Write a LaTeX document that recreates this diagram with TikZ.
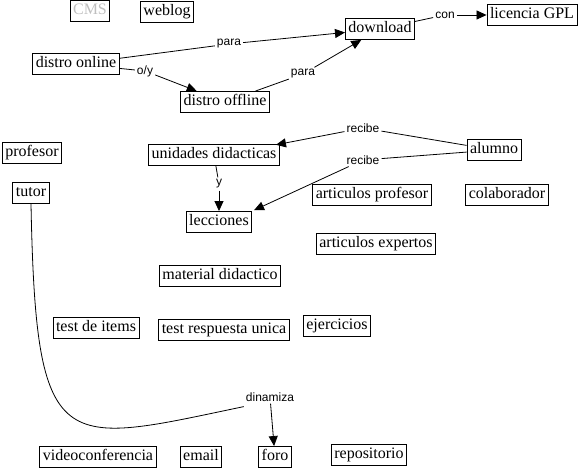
\documentclass[tikz,border=0pt]{standalone}
\usepackage{fontspec}
\setmainfont{Liberation Serif}
\newfontfamily\lblfont{Liberation Sans}
\usetikzlibrary{arrows.meta}
\begin{document}
\begin{tikzpicture}[x=1pt,y=-1pt]
\tikzset{
 concept/.style={draw, line width=0.9pt, font=\fontsize{16}{18}\selectfont, inner xsep=3pt, inner ysep=3pt, text height=11pt, text depth=4pt},
 lbl/.style={font=\lblfont\fontsize{12}{14}\selectfont, inner sep=2pt},
 link/.style={line width=0.8pt},
 arr/.style={link, -{Triangle[length=10pt,width=9pt]}},
}
\useasboundingbox (0,0) rectangle (582,470);
% concepts
\node[concept, text=black!25] (cms) at (90,11) {CMS};
\node[concept] (web) at (167,12) {weblog};
\node[concept] (don) at (76,64) {distro online};
\node[concept] (dl) at (380,29) {download};
\node[concept] (gpl) at (532,15) {licencia GPL};
\node[concept] (doff) at (225,102) {distro offline};
\node[concept] (prof) at (32,153) {profesor};
\node[concept] (ud) at (214,155) {unidades didacticas};
\node[concept] (alu) at (494,150) {alumno};
\node[concept] (tut) at (31,193) {tutor};
\node[concept] (lec) at (219,222) {lecciones};
\node[concept] (artp) at (372,195) {articulos profesor};
\node[concept] (col) at (507,195) {colaborador};
\node[concept] (arte) at (376,244) {articulos expertos};
\node[concept] (mat) at (220,276) {material didactico};
\node[concept] (tdi) at (96,328) {test de items};
\node[concept] (tru) at (224,330) {test respuesta unica};
\node[concept] (eje) at (337,326) {ejercicios};
\node[concept] (vid) at (98,457) {videoconferencia};
\node[concept] (ema) at (201,457) {email};
\node[concept] (foro) at (275,457) {foro};
\node[concept] (rep) at (369,455) {repositorio};
% labels
\node[lbl] (p1) at (229,44) {para};
\node[lbl] (oy) at (145,71) {o/y};
\node[lbl] (p2) at (303,74) {para};
\node[lbl] (con) at (445,15) {con};
\node[lbl] (r1) at (363,128) {recibe};
\node[lbl] (r2) at (363,160) {recibe};
\node[lbl] (y) at (219,184) {y};
\node[lbl] (dyn) at (270,397) {dinamiza};
% connectors
\draw[link] (don) -- (p1);
\draw[arr] (p1) -- (dl);
\draw[link] (don) -- (oy);
\draw[arr] (oy) -- (doff);
\draw[link] (doff) -- (p2);
\draw[arr] (p2) -- (dl);
\draw[link] (dl) -- (con);
\draw[arr] (con) -- (gpl);
\draw[link] (alu) -- (r1);
\draw[arr, shorten >=-4pt] (r1) -- (ud.north east);
\draw[link] (alu) -- (r2);
\draw[arr, shorten >=2pt] (r2) -- (lec.north east);
\draw[link] (ud) -- (y);
\draw[arr] (y) -- (lec);
\draw[link] (tut.south) .. controls (36,460) and (60,445) .. ([yshift=-3pt]dyn.south west);
\draw[arr] (dyn) -- (foro);
\end{tikzpicture}
\end{document}
